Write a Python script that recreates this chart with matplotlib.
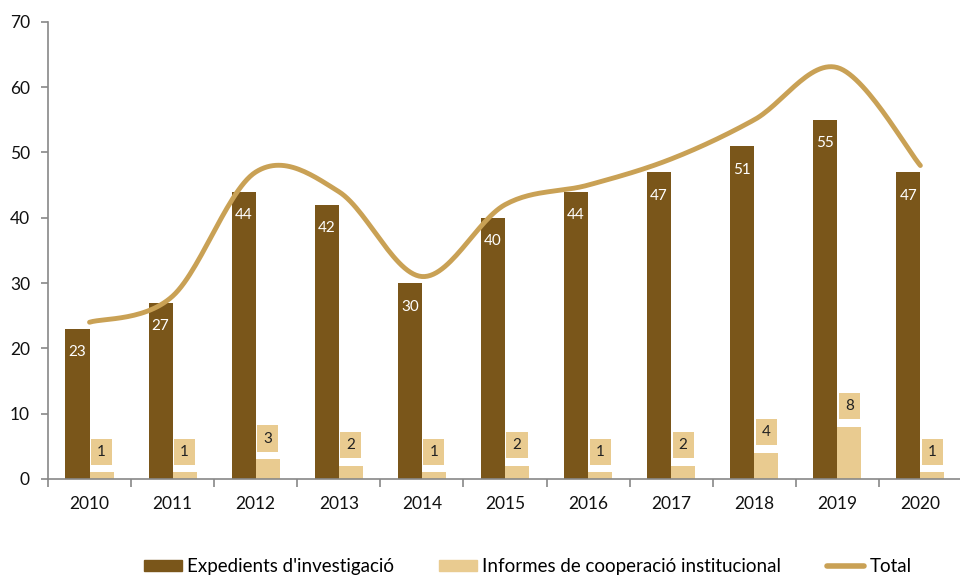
import matplotlib
matplotlib.use("Agg")
import matplotlib.pyplot as plt
import numpy as np
from matplotlib.lines import Line2D
from matplotlib.patches import Patch

years = ["2010", "2011", "2012", "2013", "2014", "2015", "2016", "2017", "2018", "2019", "2020"]
expedients = [23, 27, 44, 42, 30, 40, 44, 47, 51, 55, 47]
informes = [1, 1, 3, 2, 1, 2, 1, 2, 4, 8, 1]
total = [e + i for e, i in zip(expedients, informes)]

DARK = "#7a561a"
LIGHT = "#e9cb90"
LINE = "#c9a155"

plt.rcParams['font.family'] = ['Lato', 'DejaVu Sans']

fig = plt.figure(figsize=(9.6, 5.75), dpi=100)
ax = fig.add_axes([0.05, 0.167, 0.952, 0.795])

x = np.arange(len(years))
w = 0.29
ax.bar(x - w / 2, expedients, width=w, color=DARK, zorder=2)
ax.bar(x + w / 2, informes, width=w, color=LIGHT, zorder=2)

# smooth line (cardinal spline)
def cardinal(xs, ys, tension=0.5, n=30):
    xs = np.asarray(xs, float); ys = np.asarray(ys, float)
    px, py = [], []
    N = len(xs)
    for i in range(N - 1):
        x0, y0 = (xs[i - 1], ys[i - 1]) if i > 0 else (xs[i], ys[i])
        x1, y1 = xs[i], ys[i]
        x2, y2 = xs[i + 1], ys[i + 1]
        x3, y3 = (xs[i + 2], ys[i + 2]) if i + 2 < N else (xs[i + 1], ys[i + 1])
        c1x = x1 + (x2 - x0) * tension / 3
        c1y = y1 + (y2 - y0) * tension / 3
        c2x = x2 - (x3 - x1) * tension / 3
        c2y = y2 - (y3 - y1) * tension / 3
        t = np.linspace(0, 1, n)
        bx = (1 - t) ** 3 * x1 + 3 * (1 - t) ** 2 * t * c1x + 3 * (1 - t) * t ** 2 * c2x + t ** 3 * x2
        by = (1 - t) ** 3 * y1 + 3 * (1 - t) ** 2 * t * c1y + 3 * (1 - t) * t ** 2 * c2y + t ** 3 * y2
        px.extend(bx); py.extend(by)
    return np.array(px), np.array(py)

sx, sy = cardinal(x, total, tension=0.5)
ax.plot(sx, sy, color=LINE, lw=3.5, solid_capstyle='round', zorder=3)

# labels
for i in range(len(years)):
    ax.annotate(str(expedients[i]), (x[i] - w / 2, expedients[i]), xytext=(0, -17),
                textcoords='offset points', ha='center', va='center', color='white',
                fontsize=11, zorder=4)
    ax.annotate(str(informes[i]), (x[i] + w / 2, informes[i]), xytext=(0, 15),
                textcoords='offset points', ha='center', va='center', color='#222222',
                fontsize=11, zorder=4,
                bbox=dict(boxstyle='square,pad=0.4', fc=LIGHT, ec='none'))

ax.set_xlim(-0.5, len(years) - 0.5)
ax.set_ylim(0, 70)
ax.set_yticks(range(0, 71, 10))
ax.set_xticks(x)
ax.set_xticklabels(years)
ax.set_xticks(np.arange(-0.5, len(years), 1), minor=True)
ax.tick_params(axis='x', which='major', length=0, pad=12, labelsize=12.5, labelcolor='#111111')
ax.tick_params(axis='x', which='minor', length=6, color='#888888', width=1.2)
ax.tick_params(axis='y', length=5, color='#888888', width=1.2, labelsize=12.5, labelcolor='#111111', pad=8)
for s in ['top', 'right']:
    ax.spines[s].set_visible(False)
for s in ['left', 'bottom']:
    ax.spines[s].set_color('#888888')
    ax.spines[s].set_linewidth(1.2)

handles = [Patch(color=DARK, label="Expedients d'investigació"),
           Patch(color=LIGHT, label="Informes de cooperació institucional"),
           Line2D([0], [0], color=LINE, lw=4, solid_capstyle='round', label="Total")]
fig.legend(handles=handles, loc='lower center', bbox_to_anchor=(0.55, -0.03), ncol=3,
           frameon=False, fontsize=13.5, handlelength=2.0, handleheight=0.55,
           handletextpad=0.3, columnspacing=2.4)

fig.savefig("out.png", dpi=100)
